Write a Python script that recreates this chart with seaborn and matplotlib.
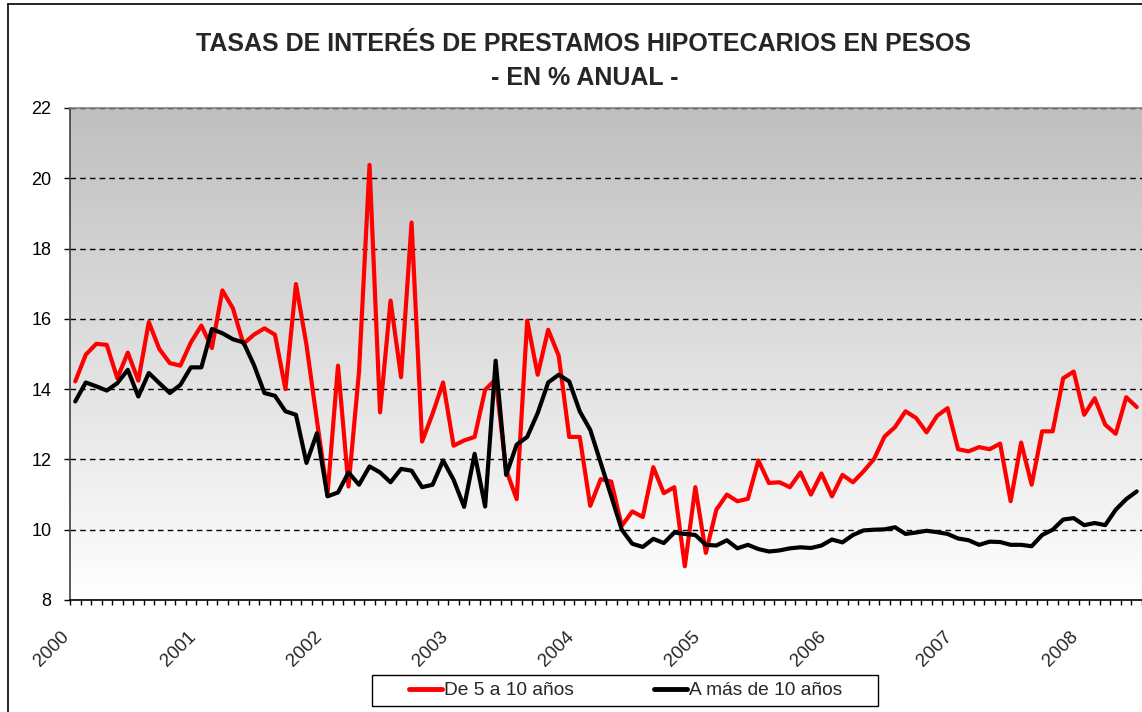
import matplotlib
matplotlib.use('Agg')
import matplotlib.pyplot as plt
import matplotlib.transforms as mtransforms
from matplotlib.colors import LinearSegmentedColormap
from matplotlib.lines import Line2D
from matplotlib.patches import Rectangle
from matplotlib.ticker import FixedLocator
import numpy as np
import pandas as pd
import seaborn as sns

sns.set_style('white')
plt.rcParams['font.family'] = ['Liberation Sans', 'DejaVu Sans']

# monthly series, Jan 2000 .. Jun 2008
years = ['2000', '2001', '2002', '2003', '2004', '2005', '2006', '2007', '2008']
de_5_a_10 = [
    14.22, 14.98, 15.29, 15.26, 14.31, 15.04, 14.24, 15.91, 15.14, 14.74, 14.67, 15.33,
    15.81, 15.17, 16.81, 16.30, 15.29, 15.55, 15.73, 15.55, 14.00, 16.99, 15.26, 13.10,
    11.00, 14.67, 11.23, 14.50, 20.38, 13.34, 16.52, 14.34, 18.74, 12.51, 13.30, 14.19,
    12.39, 12.54, 12.64, 13.98, 14.28, 11.70, 10.87, 15.95, 14.41, 15.69, 14.95, 12.64,
    12.64, 10.68, 11.44, 11.37, 10.11, 10.52, 10.36, 11.78, 11.04, 11.21, 8.96, 11.21,
    9.34, 10.57, 11.00, 10.81, 10.88, 11.97, 11.33, 11.35, 11.21, 11.63, 11.00, 11.60,
    10.95, 11.56, 11.35, 11.66, 12.01, 12.65, 12.92, 13.37, 13.18, 12.77, 13.24, 13.46,
    12.29, 12.23, 12.35, 12.29, 12.45, 10.81, 12.48, 11.28, 12.80, 12.80, 14.31, 14.50,
    13.27, 13.74, 12.99, 12.73, 13.77, 13.49,
]
mas_de_10 = [
    13.65, 14.19, 14.08, 13.96, 14.17, 14.55, 13.79, 14.46, 14.17, 13.89, 14.12, 14.62,
    14.62, 15.71, 15.59, 15.42, 15.33, 14.69, 13.89, 13.81, 13.37, 13.27, 11.90, 12.75,
    10.95, 11.06, 11.63, 11.28, 11.80, 11.63, 11.35, 11.73, 11.68, 11.21, 11.28, 11.97,
    11.42, 10.65, 12.16, 10.66, 14.81, 11.56, 12.42, 12.64, 13.32, 14.19, 14.41, 14.22,
    13.37, 12.84, 11.90, 10.95, 10.00, 9.60, 9.51, 9.74, 9.62, 9.92, 9.88, 9.85,
    9.57, 9.55, 9.70, 9.47, 9.57, 9.45, 9.38, 9.41, 9.47, 9.50, 9.48, 9.55,
    9.72, 9.64, 9.85, 9.98, 10.00, 10.01, 10.07, 9.88, 9.92, 9.97, 9.93, 9.88,
    9.75, 9.70, 9.57, 9.66, 9.65, 9.57, 9.57, 9.53, 9.85, 10.00, 10.29, 10.33,
    10.13, 10.19, 10.13, 10.57, 10.87, 11.09,
]
series_names = ['De 5 a 10 años', 'A más de 10 años']
colors = ['#ff0000', '#000000']

n = len(de_5_a_10)
df = pd.DataFrame({
    'mes': list(range(n)) * 2,
    'tasa': de_5_a_10 + mas_de_10,
    'serie': [series_names[0]] * n + [series_names[1]] * n,
})

W, H = 1142, 712
fig = plt.figure(figsize=(W / 100, H / 100), dpi=100)
ax = fig.add_axes([70 / W, (H - 600) / H, (W - 70) / W, 492 / H])

# gray-to-white gradient of the plot area
cmap = LinearSegmentedColormap.from_list('fondo', ['#bfbfbf', '#ffffff'])
ax.imshow(np.linspace(0, 1, 256).reshape(-1, 1), extent=(-0.5, n - 0.5, 8, 22),
          aspect='auto', cmap=cmap, zorder=0)

sns.lineplot(data=df, x='mes', y='tasa', hue='serie', palette=dict(zip(series_names, colors)),
             linewidth=3, ax=ax)
handles, labels = ax.get_legend_handles_labels()
ax.get_legend().remove()

ax.set_xlim(-0.5, n - 0.5)
ax.set_ylim(8, 22)
ax.set_xlabel('')
ax.set_ylabel('')

ax.set_axisbelow(True)
ax.grid(axis='y', color='black', linewidth=1, linestyle=(0, (4, 3)))
ax.grid(axis='x', visible=False)

ax.set_yticks(range(8, 23, 2))
ax.tick_params(axis='y', direction='out', left=True, length=4.3, width=1, pad=9,
               labelsize=13, colors='black')

ax.xaxis.set_major_locator(FixedLocator([-0.5 + 12 * k for k in range(len(years))]))
ax.xaxis.set_minor_locator(FixedLocator(np.arange(-0.5, n, 1)))
ax.set_xticklabels(years, rotation=45, ha='right', va='center', rotation_mode='anchor')
ax.tick_params(axis='x', which='both', direction='out', bottom=True, length=3.6, width=1,
               color='black')
ax.tick_params(axis='x', which='major', pad=21, labelsize=13.5)
shift = mtransforms.ScaledTranslation(-0.03, 0, fig.dpi_scale_trans)
for lab in ax.get_xticklabels():
    lab.set_transform(lab.get_transform() + shift)

ax.spines['top'].set_color('#808080')
ax.spines['left'].set_color('#404040')
ax.spines['bottom'].set_color('black')
ax.spines['right'].set_visible(False)
for s in ['top', 'left', 'bottom']:
    ax.spines[s].set_linewidth(1.2)

fig.text(583 / W, 1 - 51 / H, 'TASAS DE INTERÉS DE PRESTAMOS HIPOTECARIOS EN PESOS',
         ha='center', va='baseline', fontsize=18, fontweight='bold')
fig.text(585 / W, 1 - 85 / H, '- EN % ANUAL -',
         ha='center', va='baseline', fontsize=18, fontweight='bold')

leg = fig.legend(handles, labels, loc='center', bbox_to_anchor=(625.5 / W, 1 - 690.5 / H),
                 ncol=2, frameon=False, fontsize=13.8, handlelength=1.7, handletextpad=0.1,
                 columnspacing=4.2)
for h in leg.legend_handles:
    h.set_linewidth(3.5)
fig.add_artist(Rectangle((372 / W, 1 - 706 / H), (878 - 372) / W, 31 / H,
                         transform=fig.transFigure, fill=False, edgecolor='black', linewidth=1))

# chart area border (left and top, the rest is cropped)
fig.add_artist(Line2D([7.5 / W, 7.5 / W], [0, 1 - 4 / H], transform=fig.transFigure,
                      color='black', linewidth=1.2))
fig.add_artist(Line2D([7.5 / W, 1], [1 - 4 / H, 1 - 4 / H], transform=fig.transFigure,
                      color='black', linewidth=1.2))

fig.savefig('out.png', dpi=100)
